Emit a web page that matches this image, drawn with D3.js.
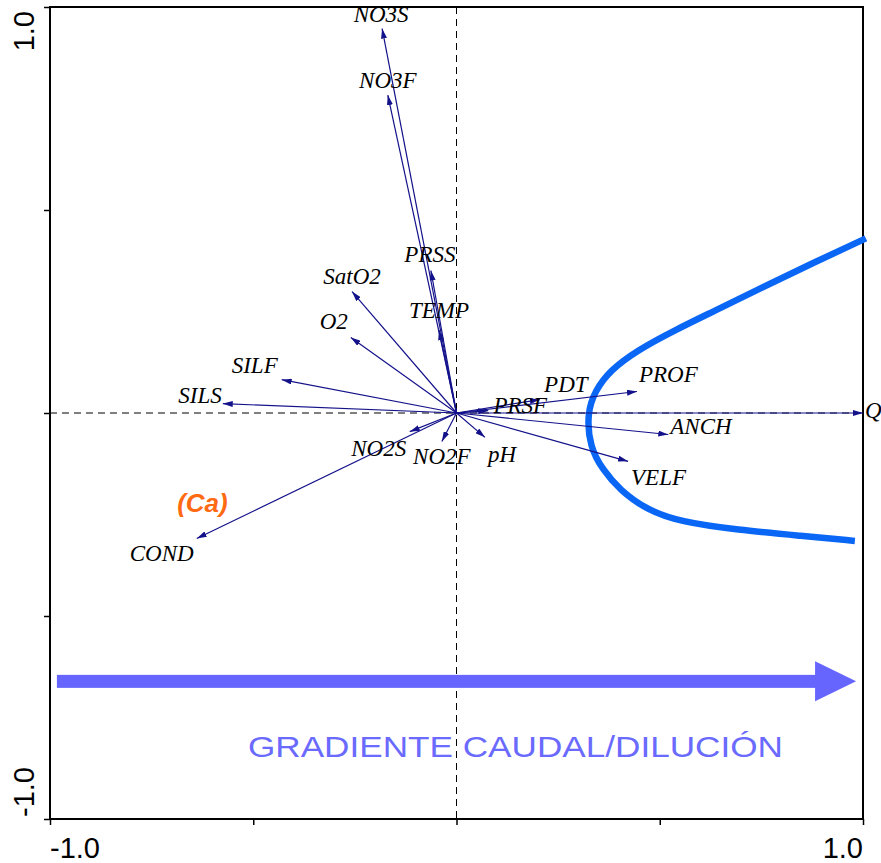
<!DOCTYPE html>
<html>
<head>
<meta charset="utf-8">
<script src="https://cdn.jsdelivr.net/npm/d3@7"></script>
<style>
  body { margin: 0; background: #fff; }
  .var-label { font-family: "Liberation Serif", "Times New Roman", serif; font-style: italic; font-size: 23px; fill: #000; }
  .tick-label { font-family: "Liberation Sans", Arial, sans-serif; font-size: 29px; fill: #000; }
</style>
</head>
<body>
<svg id="chart"></svg>
<script>
// variable names and biplot arrow end points (axis 1, axis 2)
const variables = ['NO3S', 'NO3F', 'PRSS', 'TEMP', 'SatO2', 'O2', 'SILF', 'SILS', 'NO2S',
    'NO2F', 'pH', 'PRSF', 'PDT', 'PROF', 'Q', 'ANCH', 'VELF', 'COND'];
const axis1 = [-0.183, -0.169, -0.063, -0.043, -0.257, -0.260, -0.430, -0.575, -0.115,
    -0.036, 0.070, 0.078, 0.205, 0.444, 1.000, 0.521, 0.422, -0.639];
const axis2 = [0.947, 0.783, 0.351, 0.204, 0.299, 0.186, 0.082, 0.023, -0.046,
    -0.070, -0.060, 0.006, 0.033, 0.053, 0.000, -0.053, -0.119, -0.309];

// hand drawn dilution curve, in axis units
const curveX = [1.007, 0.865, 0.737, 0.636, 0.535, 0.444, 0.378, 0.341, 0.321,
    0.328, 0.360, 0.402, 0.469, 0.550, 0.690, 0.852, 0.980];
const curveY = [0.430, 0.364, 0.302, 0.252, 0.203, 0.154, 0.105, 0.055, -0.001,
    -0.084, -0.140, -0.190, -0.239, -0.268, -0.288, -0.303, -0.315];

const tickValues = [-1, -0.5, 0, 0.5, 1];
const tickLabels = ['-1.0', '', '', '', '1.0'];

const gradientText = 'GRADIENTE CAUDAL/DILUCIÓN';
const caText = '(Ca)';

const width = 881, height = 863;
const plotLeft = 50, plotRight = 863, plotTop = 7, plotBottom = 819;

const svg = d3.select('#chart')
    .attr('width', width)
    .attr('height', height);

const x = d3.scaleLinear().domain([-1, 1]).range([plotLeft, plotRight]);
const y = d3.scaleLinear().domain([-1, 1]).range([plotBottom, plotTop]);

// label placement (pixel offset from arrow tip, anchor)
const labelPos = {
    NO3S: [-1, -7, 'middle'], NO3F: [0, -7, 'middle'], PRSS: [-1, -8, 'middle'],
    TEMP: [0, -12, 'middle'], SatO2: [0, -8, 'middle'], O2: [-17, -8, 'middle'],
    SILF: [-27, -7, 'middle'], SILS: [-1, -1, 'end'], NO2S: [-31, 24, 'middle'],
    NO2F: [0, 23, 'middle'], pH: [17, 25, 'middle'], PRSF: [32, 2, 'middle'],
    PDT: [26, -8, 'middle'], PROF: [2, -9, 'start'], Q: [2, 5, 'start'],
    ANCH: [2, -1, 'start'], VELF: [3, 24, 'start'], COND: [-35, 23, 'middle']
};

const defs = svg.append('defs');
defs.append('marker')
    .attr('id', 'head')
    .attr('markerUnits', 'userSpaceOnUse')
    .attr('viewBox', '0 0 10 6')
    .attr('refX', 10)
    .attr('refY', 3)
    .attr('markerWidth', 10)
    .attr('markerHeight', 6)
    .attr('orient', 'auto')
    .append('path')
    .attr('d', 'M0,0L10,3L0,6Z')
    .attr('fill', '#14128a');

// frame
svg.append('rect')
    .attr('x', plotLeft)
    .attr('y', plotTop)
    .attr('width', plotRight - plotLeft)
    .attr('height', plotBottom - plotTop)
    .attr('fill', 'none')
    .attr('stroke', '#000')
    .attr('stroke-width', 2);

// ticks
const xAxis = svg.append('g')
    .attr('transform', `translate(0,${plotBottom})`)
    .call(d3.axisBottom(x).tickValues(tickValues).tickSize(6).tickFormat(''));
const yAxis = svg.append('g')
    .attr('transform', `translate(${plotLeft},0)`)
    .call(d3.axisLeft(y).tickValues(tickValues).tickSize(6).tickFormat(''));
[xAxis, yAxis].forEach(g => {
    g.select('.domain').remove();
    g.selectAll('line').attr('stroke', '#000').attr('stroke-width', 1.5);
});

tickValues.forEach((v, i) => {
    if (!tickLabels[i]) return;
    svg.append('text')
        .attr('class', 'tick-label')
        .attr('x', x(v))
        .attr('y', 858)
        .attr('text-anchor', v < 0 ? 'start' : 'end')
        .text(tickLabels[i]);
    svg.append('text')
        .attr('class', 'tick-label')
        .attr('transform', `translate(34,${v < 0 ? y(v) - 2 : y(v) + 4})rotate(-90)`)
        .attr('text-anchor', v < 0 ? 'start' : 'end')
        .text(tickLabels[i]);
});

// dashed zero lines
svg.append('line')
    .attr('x1', x(0)).attr('x2', x(0))
    .attr('y1', plotTop).attr('y2', plotBottom)
    .attr('stroke', '#000')
    .attr('stroke-dasharray', '7,5');
svg.append('line')
    .attr('x1', plotLeft).attr('x2', plotRight)
    .attr('y1', y(0)).attr('y2', y(0))
    .attr('stroke', '#000')
    .attr('stroke-dasharray', '7,5');

// dilution curve
const curvePts = curveX.map((d, i) => [d, curveY[i]]);
svg.append('path')
    .datum(curvePts)
    .attr('fill', 'none')
    .attr('stroke', '#0a66f5')
    .attr('stroke-width', 6.5)
    .attr('d', d3.line().x(d => x(d[0])).y(d => y(d[1])).curve(d3.curveBasis));

// variable arrows
const data = variables.map((name, i) => ({ name, a1: axis1[i], a2: axis2[i] }));

svg.append('g')
    .selectAll('line')
    .data(data)
    .enter().append('line')
    .attr('x1', x(0))
    .attr('y1', y(0))
    .attr('x2', d => x(d.a1))
    .attr('y2', d => y(d.a2))
    .attr('stroke', '#14128a')
    .attr('stroke-width', 1.2)
    .attr('marker-end', 'url(#head)');

svg.append('g')
    .selectAll('text')
    .data(data)
    .enter().append('text')
    .attr('class', 'var-label')
    .attr('x', d => x(d.a1) + labelPos[d.name][0])
    .attr('y', d => y(d.a2) + labelPos[d.name][1])
    .attr('text-anchor', d => labelPos[d.name][2])
    .text(d => d.name);

// (Ca) note next to COND
svg.append('text')
    .attr('x', x(-0.625))
    .attr('y', y(-0.245))
    .attr('text-anchor', 'middle')
    .style('font-family', 'Liberation Sans, Arial, sans-serif')
    .style('font-weight', 'bold')
    .style('font-style', 'italic')
    .style('font-size', '26px')
    .style('fill', '#ff6a13')
    .text(caText);

// gradient arrow
const gy = y(-0.661);
const gx0 = x(-0.983), gx1 = x(0.983);
svg.append('rect')
    .attr('x', gx0)
    .attr('y', gy - 6.5)
    .attr('width', gx1 - 40 - gx0)
    .attr('height', 13)
    .attr('fill', '#6666ff');
svg.append('path')
    .attr('d', `M${gx1 - 41},${gy - 20}L${gx1},${gy}L${gx1 - 41},${gy + 20}Z`)
    .attr('fill', '#6666ff');

svg.append('text')
    .attr('x', x(0.145))
    .attr('y', y(-0.848))
    .attr('text-anchor', 'middle')
    .attr('textLength', 535)
    .attr('lengthAdjust', 'spacingAndGlyphs')
    .style('font-family', 'Liberation Sans, Arial, sans-serif')
    .style('font-size', '30px')
    .style('fill', '#6a6aff')
    .text(gradientText);
</script>
</body>
</html>
